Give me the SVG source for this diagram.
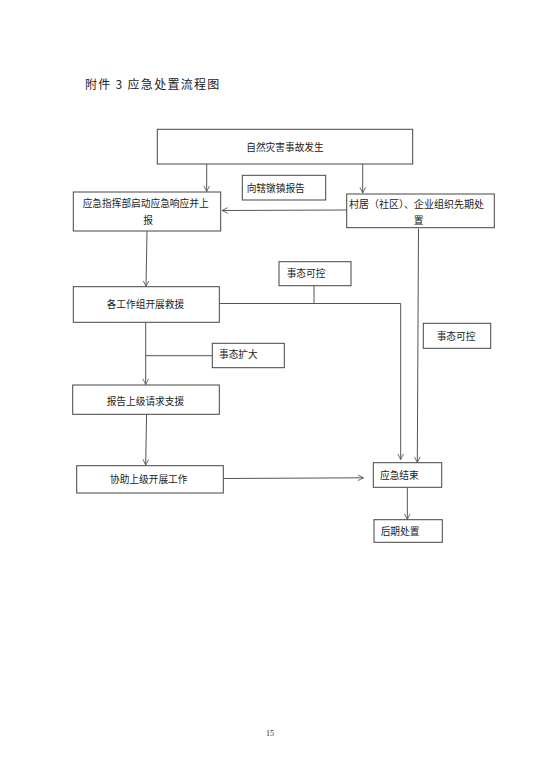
<svg xmlns="http://www.w3.org/2000/svg" width="554" height="784" viewBox="0 0 554 784">
<defs>
<marker id="ah" viewBox="0 0 10 10" refX="9" refY="5" markerWidth="7" markerHeight="7" orient="auto" markerUnits="userSpaceOnUse">
<path d="M1,1 L9,5 L1,9" fill="none" stroke="#555" stroke-width="1.2"/>
</marker>
<style>
.b{fill:#fff;stroke:#444;stroke-width:1}
.t{font-family:"Noto Sans CJK SC","Liberation Sans",sans-serif;font-size:9.7px;fill:#222;dominant-baseline:central}
.c{stroke:#555;stroke-width:1;fill:none}
.a{stroke:#555;stroke-width:1;fill:none;marker-end:url(#ah)}
</style>
</defs>
<rect width="554" height="784" fill="#fff"/>
<text x="85" y="83" style="font-family:'Noto Sans CJK SC',sans-serif;font-size:12px;fill:#222;letter-spacing:1.3px;dominant-baseline:central">附件 3 应急处置流程图</text>

<g id="connectors">
<line class="a" x1="206.7" y1="164" x2="206.7" y2="191.5"/>
<line class="a" x1="362.7" y1="164" x2="362.7" y2="193"/>
<line class="a" x1="346.7" y1="210" x2="222" y2="210.5"/>
<line class="a" x1="147" y1="231" x2="146" y2="286.5"/>
<line class="c" x1="314" y1="286" x2="314" y2="303.5"/>
<polyline class="a" points="219.3,303.5 400.7,303.5 400.7,459.5"/>
<line class="a" x1="418.5" y1="228.5" x2="417.3" y2="462.5"/>
<line class="a" x1="145.7" y1="322.5" x2="145.7" y2="384.5"/>
<line class="c" x1="145.7" y1="355.7" x2="212.3" y2="355.7"/>
<line class="a" x1="146.7" y1="406" x2="145.7" y2="465"/>
<line class="a" x1="223.3" y1="478.5" x2="363.5" y2="477.8"/>
<line class="a" x1="407.3" y1="487.3" x2="407.3" y2="519.5"/>
</g>

<g id="n1"><rect class="b" x="157.3" y="129.3" width="255.4" height="34.7"/><text class="t" x="285" y="147" text-anchor="middle">自然灾害事故发生</text></g>
<g id="n2"><rect class="b" x="242.3" y="175.3" width="83.4" height="24.7"/><text class="t" x="246.7" y="188">向辖镦镇报告</text></g>
<g id="n3"><rect class="b" x="73.3" y="192" width="147.4" height="39"/><text class="t" x="82.7" y="203">应急指挥部启动应急响应并上</text><text class="t" x="148" y="220" text-anchor="middle">报</text></g>
<g id="n4"><rect class="b" x="346.7" y="194" width="147.6" height="33.7"/><text class="t" x="349" y="203.3" style="font-size:10px">村居（社区）、企业组织先期处</text><text class="t" x="418.7" y="220" text-anchor="middle">置</text></g>
<g id="n5"><rect class="b" x="279" y="261.7" width="72" height="24"/><text class="t" x="286.7" y="272.7">事态可控</text></g>
<g id="n6"><rect class="b" x="73.3" y="286.7" width="146" height="35.6"/><text class="t" x="106.7" y="304">各工作组开展救援</text></g>
<g id="n7"><rect class="b" x="423.3" y="323.3" width="67.4" height="25"/><text class="t" x="436.7" y="336">事态可控</text></g>
<g id="n8"><rect class="b" x="212.3" y="343.3" width="72" height="24.4"/><text class="t" x="219" y="354.3">事态扩大</text></g>
<g id="n9"><rect class="b" x="72.7" y="385" width="146.6" height="29.3"/><text class="t" x="106.7" y="400.7">报告上级请求支援</text></g>
<g id="n10"><rect class="b" x="76.7" y="465.7" width="146.6" height="27.3"/><text class="t" x="110" y="479">协助上级开展工作</text></g>
<g id="n11"><rect class="b" x="373.3" y="462.7" width="68.4" height="24.6"/><text class="t" x="380" y="474.7">应急结束</text></g>
<g id="n12"><rect class="b" x="374" y="519.7" width="68.3" height="22.6"/><text class="t" x="380.7" y="531">后期处置</text></g>

<text x="270" y="733" text-anchor="middle" style="font-family:'Liberation Serif',serif;font-size:8px;fill:#333;dominant-baseline:central">15</text>
</svg>
